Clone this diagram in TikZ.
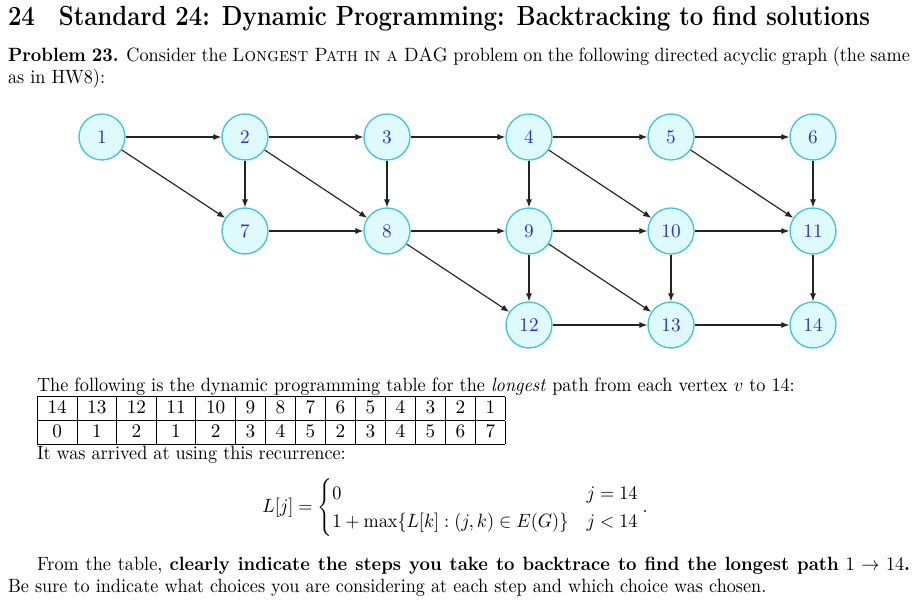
\documentclass[tikz,border=0pt]{standalone}
\usepackage{amsmath}
\usepackage{graphicx}
\usetikzlibrary{arrows.meta}
\definecolor{nodefill}{RGB}{222,250,253}
\definecolor{nodedraw}{RGB}{70,195,220}
\definecolor{nodetext}{RGB}{45,45,205}
\definecolor{edgecol}{RGB}{35,35,35}
\newcommand{\hsq}[1]{\scalebox{0.946}[1]{#1}}
\begin{document}
\begin{tikzpicture}[x=0.52pt,y=-0.52pt,
  vtx/.style={circle,draw=nodedraw,fill=nodefill,line width=0.7pt,minimum size=23.9pt,inner sep=0pt,text=nodetext},
  edge/.style={draw=edgecol,line width=0.6pt,-{Latex[length=4.2pt,width=3.2pt]}},
  line/.style={anchor=base west,inner sep=0pt,outer sep=0pt}]
\useasboundingbox (0,0) rectangle (923,613);
% title
\node[line] (title) at (8,26) {\resizebox{448.2pt}{\height}{\Large\bfseries 24\quad Standard 24: Dynamic Programming: Backtracking to find solutions}};
\node[line] (p1) at (8,62) {\hsq{\makebox[495.8pt][s]{\textbf{Problem 23.} Consider the \textsc{Longest Path in a DAG} problem on the following directed acyclic graph (the same}}};
\node[line] (p2) at (8,84) {\hsq{as in HW8):}};
% graph
\node[vtx] (n1) at (102,137) {1};
\node[vtx] (n2) at (245,137) {2};
\node[vtx] (n3) at (387,137) {3};
\node[vtx] (n4) at (529,137) {4};
\node[vtx] (n5) at (671,137) {5};
\node[vtx] (n6) at (813,137) {6};
\node[vtx] (n7) at (245,231) {7};
\node[vtx] (n8) at (387,231) {8};
\node[vtx] (n9) at (529,231) {9};
\node[vtx] (n10) at (671,231) {10};
\node[vtx] (n11) at (813,231) {11};
\node[vtx] (n12) at (529,325) {12};
\node[vtx] (n13) at (671,325) {13};
\node[vtx] (n14) at (813,325) {14};
\foreach \a/\b in {n1/n2,n1/n7,n2/n3,n2/n7,n2/n8,n3/n4,n3/n8,n7/n8,n4/n5,n4/n9,n4/n10,n5/n6,n5/n11,n6/n11,n8/n9,n8/n12,n9/n10,n9/n12,n9/n13,n10/n11,n10/n13,n11/n14,n12/n13,n13/n14}
  \draw[edge] (\a) -- (\b);
% table text
\node[line] (t1) at (37,391) {\hsq{The following is the dynamic programming table for the \emph{longest} path from each vertex $v$ to 14:}};
\node[anchor=north west,inner sep=0pt] (tab) at (37,396) {\setlength{\tabcolsep}{5.3pt}\begin{tabular}{|c|c|c|c|c|c|c|c|c|c|c|c|c|c|}
\hline
14 & 13 & 12 & 11 & 10 & 9 & 8 & 7 & 6 & 5 & 4 & 3 & 2 & 1\\ \hline
0 & 1 & 2 & 1 & 2 & 3 & 4 & 5 & 2 & 3 & 4 & 5 & 6 & 7\\ \hline
\end{tabular}};
\node[line] (t2) at (37,459) {\hsq{It was arrived at using this recurrence:}};
% equation
\node[anchor=west,inner sep=0pt] (eq) at (262,508) {\hsq{$\displaystyle L[j]=\begin{cases}0 & j=14\\ 1+\max\{L[k]:(j,k)\in E(G)\} & j<14\end{cases}.$}};
% bottom text
\node[line] (b1) at (37,570) {\hsq{\makebox[479.9pt][s]{From the table, \textbf{clearly indicate the steps you take to backtrace to find the longest path} $1\rightarrow 14$\textbf{.}}}};
\node[line] (b2) at (8,592) {\hsq{Be sure to indicate what choices you are considering at each step and which choice was chosen.}};
\end{tikzpicture}
\end{document}
